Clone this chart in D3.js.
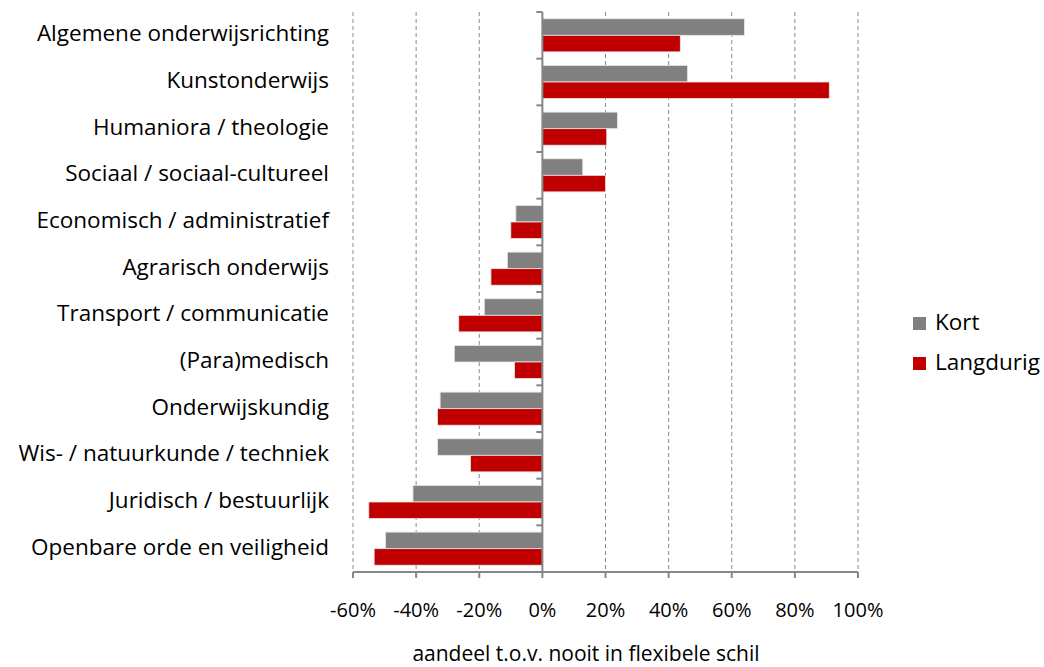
<!DOCTYPE html>
<html>
<head>
<meta charset="utf-8">
<script src="https://d3js.org/d3.v7.min.js"></script>
<style>
body { margin: 0; background: #fff; }
text { font-family: "Open Sans", "Liberation Sans", sans-serif; fill: #000; }
.grid line { stroke: #8a8a8a; stroke-width: 1; stroke-dasharray: 4,3; }
.axisline { stroke: #868686; stroke-width: 2; }
</style>
</head>
<body>
<script>
// categories, top to bottom
var categories = [
  "Algemene onderwijsrichting",
  "Kunstonderwijs",
  "Humaniora / theologie",
  "Sociaal / sociaal-cultureel",
  "Economisch / administratief",
  "Agrarisch onderwijs",
  "Transport / communicatie",
  "(Para)medisch",
  "Onderwijskundig",
  "Wis- / natuurkunde / techniek",
  "Juridisch / bestuurlijk",
  "Openbare orde en veiligheid"
];
var series = ["Kort", "Langdurig"];
var kort      = [0.64, 0.46, 0.238, 0.128, -0.084, -0.111, -0.184, -0.279, -0.324, -0.332, -0.41, -0.497];
var langdurig = [0.437, 0.909, 0.204, 0.20, -0.10, -0.163, -0.265, -0.088, -0.332, -0.228, -0.55, -0.533];
var xTicks = [-0.6, -0.4, -0.2, 0, 0.2, 0.4, 0.6, 0.8, 1.0];
var colors = {"Kort": "#808080", "Langdurig": "#c00000"};
var xTitle = "aandeel t.o.v. nooit in flexibele schil";

var width = 1044, height = 667;
var plotLeft = 353, plotRight = 858, plotTop = 12, plotBottom = 572;

var svg = d3.select("body").append("svg")
    .attr("width", width)
    .attr("height", height);

var x = d3.scaleLinear().domain([-0.6, 1.0]).range([plotLeft, plotRight]);
var y = d3.scaleBand().domain(categories).range([plotTop, plotBottom]).padding(0);
var y1 = d3.scaleBand().domain(series).range([0, y.bandwidth()])
    .paddingInner(0).paddingOuter(0.41);

var rows = categories.map(function(c, i) {
  return {cat: c, values: [{s: "Kort", v: kort[i]}, {s: "Langdurig", v: langdurig[i]}]};
});

var pct = function(d) { return d3.format(".0%")(d).replace("\u2212", "-"); };

// dashed gridlines
svg.append("g").attr("class", "grid")
  .selectAll("line")
  .data(xTicks.filter(function(t) { return t !== 0; }))
  .enter().append("line")
    .attr("x1", function(d) { return x(d); })
    .attr("x2", function(d) { return x(d); })
    .attr("y1", plotTop)
    .attr("y2", plotBottom);

// bars
var g = svg.append("g").selectAll("g")
  .data(rows)
  .enter().append("g")
    .attr("transform", function(d) { return "translate(0," + y(d.cat) + ")"; });

g.selectAll("rect")
  .data(function(d) { return d.values; })
  .enter().append("rect")
    .attr("x", function(d) { return x(Math.min(0, d.v)); })
    .attr("width", function(d) { return Math.abs(x(d.v) - x(0)); })
    .attr("y", function(d) { return y1(d.s); })
    .attr("height", y1.bandwidth())
    .attr("fill", function(d) { return colors[d.s]; })
    .attr("stroke", "#e8e8e8")
    .attr("stroke-width", 0.8);

// bottom axis line + ticks
svg.append("line").attr("class", "axisline")
  .attr("x1", plotLeft).attr("x2", plotRight)
  .attr("y1", plotBottom).attr("y2", plotBottom);
svg.append("g").selectAll("line")
  .data(xTicks)
  .enter().append("line")
    .attr("class", "axisline")
    .attr("x1", function(d) { return x(d); })
    .attr("x2", function(d) { return x(d); })
    .attr("y1", plotBottom).attr("y2", plotBottom + 6);

// vertical zero axis + ticks at band edges
svg.append("line").attr("class", "axisline")
  .attr("x1", x(0)).attr("x2", x(0))
  .attr("y1", plotTop).attr("y2", plotBottom);
svg.append("g").selectAll("line")
  .data(categories)
  .enter().append("line")
    .attr("class", "axisline")
    .attr("x1", x(0) - 6).attr("x2", x(0))
    .attr("y1", function(d) { return y(d); })
    .attr("y2", function(d) { return y(d); });
svg.append("line").attr("class", "axisline")
  .attr("x1", x(0) - 6).attr("x2", x(0))
  .attr("y1", plotBottom).attr("y2", plotBottom);

// tick labels
svg.append("g").selectAll("text")
  .data(xTicks)
  .enter().append("text")
    .attr("x", function(d) { return x(d); })
    .attr("y", 612)
    .attr("text-anchor", "middle")
    .attr("dominant-baseline", "middle")
    .style("font-size", "20px")
    .text(pct);

// category labels
svg.append("g").selectAll("text")
  .data(categories)
  .enter().append("text")
    .attr("x", 329)
    .attr("y", function(d) { return y(d) + y.bandwidth() / 2; })
    .attr("text-anchor", "end")
    .attr("dominant-baseline", "middle")
    .style("font-size", "22.5px")
    .text(function(d) { return d; });

// axis title
svg.append("text")
  .attr("x", 586)
  .attr("y", 655)
  .attr("text-anchor", "middle")
  .attr("dominant-baseline", "middle")
  .style("font-size", "21px")
  .text(xTitle);

// legend
var legend = svg.append("g").selectAll("g")
  .data(series)
  .enter().append("g")
    .attr("transform", function(d, i) { return "translate(913," + (317 + i * 40) + ")"; });
legend.append("rect")
  .attr("width", 13).attr("height", 13)
  .attr("fill", function(d) { return colors[d]; });
legend.append("text")
  .attr("x", 22)
  .attr("y", 7)
  .attr("dominant-baseline", "middle")
  .style("font-size", "22.5px")
  .text(function(d) { return d; });
</script>
</body>
</html>
